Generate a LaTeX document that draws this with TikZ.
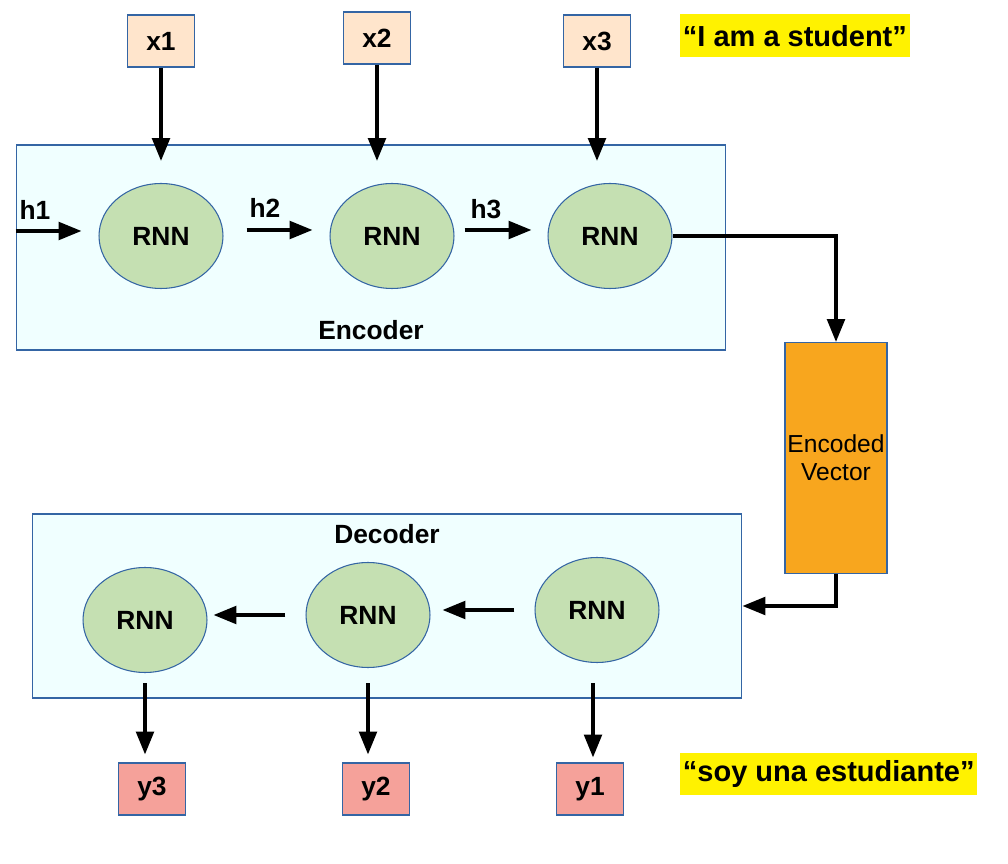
\documentclass[tikz,border=0pt]{standalone}
\usepackage{fontspec}
\setmainfont{Liberation Sans}
\usetikzlibrary{arrows.meta,positioning,shapes.geometric}
\definecolor{panelfill}{RGB}{240,255,255}
\definecolor{edgeblue}{RGB}{52,101,164}
\definecolor{rnngreen}{RGB}{197,224,178}
\definecolor{inpeach}{RGB}{255,229,204}
\definecolor{outsalmon}{RGB}{245,161,154}
\definecolor{vecorange}{RGB}{248,166,30}
\definecolor{quoteyellow}{RGB}{255,242,0}
\begin{document}
\begin{tikzpicture}[x=0.02cm,y=-0.02cm]
    \tikzset{
        panel/.style={draw=edgeblue,fill=panelfill,line width=0.6pt,inner sep=0pt},
        rnn/.style={ellipse,draw=edgeblue,fill=rnngreen,line width=0.6pt,minimum width=2.48cm,minimum height=2.1cm,font=\bfseries\fontsize{15}{18}\selectfont},
        token/.style={draw=edgeblue,line width=0.6pt,minimum width=1.34cm,minimum height=1.04cm,inner sep=0pt,font=\bfseries\fontsize{15}{18}\selectfont},
        lbl/.style={font=\bfseries\fontsize{15}{18}\selectfont,inner sep=0pt},
        quote/.style={fill=quoteyellow,inner xsep=1.5pt,minimum height=0.86cm,font=\bfseries\fontsize{16.5}{20}\selectfont},
        arr/.style={line width=2pt,-{Triangle[length=13pt,width=10pt]}},
    }
    \useasboundingbox (0,0) rectangle (1008,864);
    % encoder
    \node[panel,minimum width=14.2cm,minimum height=4.1cm] (encbox) at (371,247.5) {};
    \node[lbl] (enclbl) at (371,330) {Encoder};
    \node[rnn] (e1) at (161,236) {RNN};
    \node[rnn] (e2) at (392,236) {RNN};
    \node[rnn] (e3) at (610,236) {RNN};
    \node[token,fill=inpeach] (x1) at (161,41) {x1};
    \node[token,fill=inpeach] (x2) at (377,38) {x2};
    \node[token,fill=inpeach] (x3) at (597,41) {x3};
    \draw[arr,shorten >=0.44cm] (x1.south) -- (x1.south |- e1.north);
    \draw[arr,shorten >=0.44cm] (x2.south) -- (x2.south |- e2.north);
    \draw[arr,shorten >=0.44cm] (x3.south) -- (x3.south |- e3.north);
    \coordinate (hin) at (encbox.west |- 0,231);
    \draw[arr,shorten >=0.34cm] (hin) -- (hin -| e1.west);
    \draw[arr,shorten <=0.46cm,shorten >=0.34cm] ([yshift=0.12cm]e1.east) -- ([yshift=0.12cm]e2.west);
    \draw[arr,shorten <=0.2cm,shorten >=0.32cm] ([yshift=0.12cm]e2.east) -- ([yshift=0.12cm]e3.west);
    \node[lbl] (h1) at (35,210) {h1};
    \node[lbl] (h2) at (265,208) {h2};
    \node[lbl] (h3) at (486,209) {h3};
    % encoded vector
    \node[draw=edgeblue,fill=vecorange,line width=0.6pt,inner xsep=0pt,minimum width=2.04cm,minimum height=4.62cm,align=center,font=\fontsize{14}{16}\selectfont] (vec) at (836,458) {Encoded\\Vector};
    \draw[arr] (e3.east) -| (vec.north);
    % decoder
    \node[panel,minimum width=14.2cm,minimum height=3.68cm] (decbox) at (387,606) {};
    \node[lbl] (declbl) at (387,534) {Decoder};
    \node[rnn] (d1) at (145,620) {RNN};
    \node[rnn] (d2) at (368,615) {RNN};
    \node[rnn] (d3) at (597,610) {RNN};
    \draw[arr] (vec.south) |- (decbox.east);
    \draw[arr,shorten <=0.4cm,shorten >=0.24cm] (d3.west) -- (d3.west -| d2.east);
    \draw[arr,shorten <=0.4cm,shorten >=0.12cm] (d2.west) -- (d2.west -| d1.east);
    \node[token,fill=outsalmon] (y3) at (152,789) {y3};
    \node[token,fill=outsalmon] (y2) at (376,789) {y2};
    \node[token,fill=outsalmon] (y1) at (590,789) {y1};
    \draw[arr,shorten <=0.2cm,shorten >=0.16cm] (d1.south) -- (d1.south |- y3.north);
    \draw[arr,shorten <=0.3cm,shorten >=0.16cm] (d2.south) -- (d2.south |- y2.north);
    \draw[arr,shorten <=0.4cm,shorten >=0.1cm] ([xshift=-0.08cm]d3.south) -- ([xshift=-0.08cm]d3.south |- y1.north);
    % sentences
    \node[quote,anchor=west] (src) at (680,36) {“I am a student”};
    \node[quote,anchor=west] (tgt) at (680,774) {“soy una estudiante”};
\end{tikzpicture}
\end{document}
